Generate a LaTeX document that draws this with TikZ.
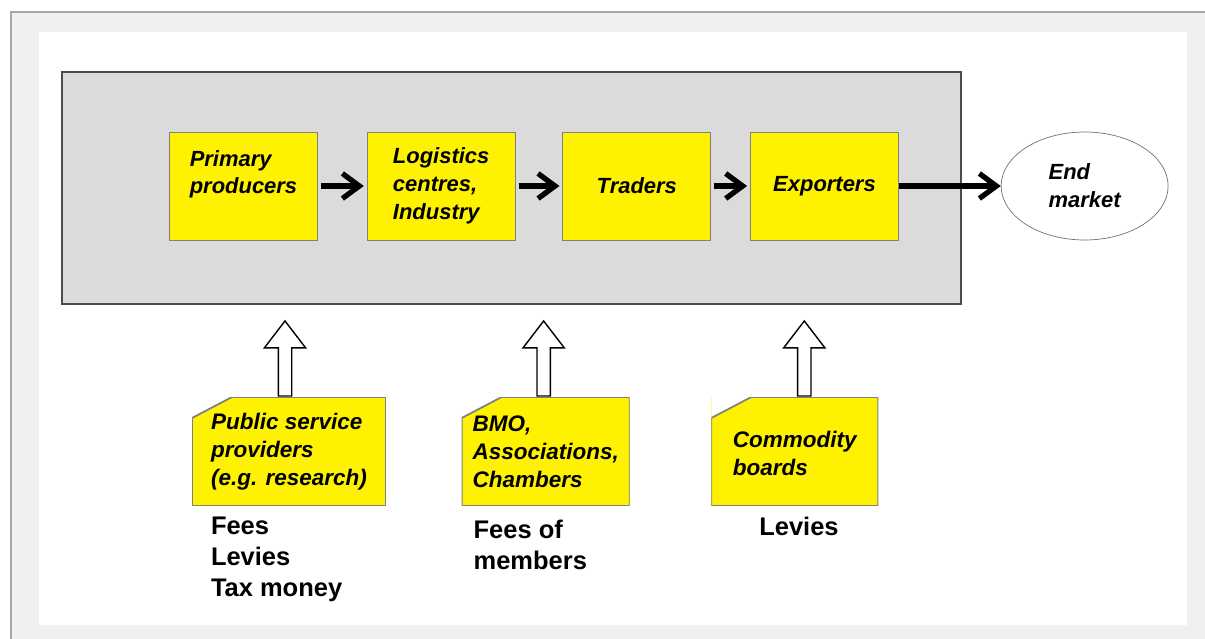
\documentclass[tikz,border=0pt]{standalone}
\usepackage{fontspec}
\setmainfont{Liberation Sans}
\usetikzlibrary{shapes.geometric, shapes.arrows, arrows.meta, positioning}

\begin{document}
\begin{tikzpicture}[
    x=0.02cm, y=-0.02cm,
    node distance=1cm,
    frame/.style={rectangle, draw=black!70, line width=1.2pt, fill=black!14, minimum width=17.98cm, minimum height=4.64cm},
    actor/.style={rectangle, draw=black!50, fill=yellow, minimum width=2.96cm, minimum height=2.16cm, align=left, font=\bfseries\itshape\fontsize{12.5}{15.9}\selectfont},
    market/.style={ellipse, draw=black!55, fill=white, minimum width=3.34cm, minimum height=2.16cm, align=left, font=\bfseries\itshape\fontsize{12.5}{15.9}\selectfont},
    support/.style={rectangle, fill=yellow, minimum height=2.18cm, align=left, font=\bfseries\itshape\fontsize{12.8}{15.9}\selectfont,
        path picture={
            \fill[white] (path picture bounding box.north west) -- ([xshift=0.8cm]path picture bounding box.north west) -- ([yshift=-0.42cm]path picture bounding box.north west) -- cycle;
            \draw[black!50, line width=1pt] ([yshift=-0.42cm]path picture bounding box.north west) -- ([xshift=0.8cm]path picture bounding box.north west) -- (path picture bounding box.north east) -- (path picture bounding box.south east) -- (path picture bounding box.south west) -- cycle;
        }},
    fund/.style={inner sep=0pt, align=left, font=\bfseries\fontsize{14.5}{17.6}\selectfont},
    flow/.style={-{Straight Barb[length=0.34cm, width=0.5cm]}, line width=3pt},
    lift/.style={single arrow, draw=black, line width=0.8pt, fill=white, inner xsep=0pt, inner ysep=0.12cm, minimum height=1.5cm, single arrow head extend=0.28cm, single arrow tip angle=75, rotate=90, anchor=tail}
]

% Backdrop
\useasboundingbox (0,0) rectangle (1205,639);
\fill[black!6] (11,12) rectangle (1205,639);
\draw[black!35, line width=0.6pt] (1205,12) -- (11,12) -- (11,639);
\fill[white] (39,32) rectangle (1187,625);

% Value chain frame
\node[frame] (chain) at (511.5,188) {};

% Chain actors
\node[actor] (prim) at (243.5,186) {Primary\\producers\\\mbox{}};
\node[actor, right=0.98cm of prim] (logi) {Logistics\\centres,\\Industry};
\node[actor, right=0.94cm of logi] (trad) {Traders};
\node[actor, right=0.78cm of trad] (expo) {Exporters};
\node[market, right=2.04cm of expo] (endm) {End\\market};

% Flows
\draw[flow, shorten <=0.06cm, shorten >=0.06cm] (prim) -- (logi);
\draw[flow, shorten <=0.06cm, shorten >=0.06cm] (logi) -- (trad);
\draw[flow, shorten <=0.06cm, shorten >=0.06cm] (trad) -- (expo);
\draw[flow] (expo) -- (endm);

% Support organisations
\node[support, minimum width=3.88cm] (pub) at (289,451.5) {Public service\\providers\\(e.g. research)};
\node[support, minimum width=3.36cm, right=1.5cm of pub] (bmo) {BMO,\\Associations,\\Chambers};
\node[support, minimum width=3.34cm, right=1.62cm of bmo] (comm) {\\[-4pt]Commodity\\boards};

% Services into the chain
\node[lift] (liftpub) at ([xshift=-0.08cm]pub.north) {};
\node[lift] (liftbmo) at ([xshift=-0.04cm]bmo.north) {};
\node[lift] (liftcomm) at ([xshift=0.19cm]comm.north) {};

% Funding
\node[fund, below right=0.2cm and 0.38cm of pub.south west] (feespub) {Fees\\Levies\\Tax money};
\node[fund, below right=0.26cm and 0.24cm of bmo.south west] (feesbmo) {Fees of\\members};
\node[fund, below right=0.2cm and 0.96cm of comm.south west] (feescomm) {Levies};

\end{tikzpicture}
\end{document}
